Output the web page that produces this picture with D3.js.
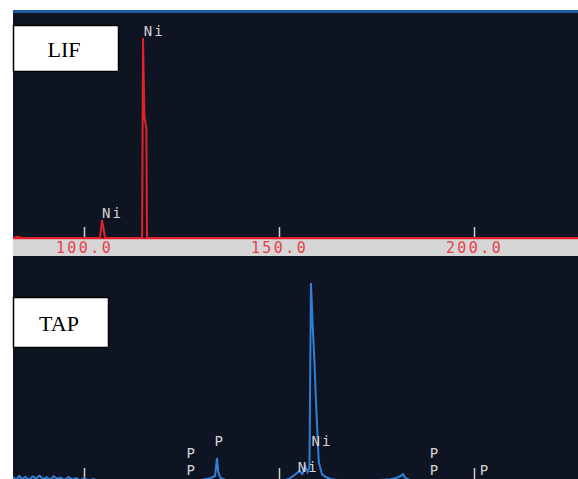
<!DOCTYPE html>
<html>
<head>
<meta charset="utf-8">
<script src="https://cdn.jsdelivr.net/npm/d3@7"></script>
<style>
  body { margin: 0; background: #fff; }
  svg { display: block; }
  .mono { font-family: "DejaVu Sans Mono", "Liberation Mono", monospace; }
</style>
</head>
<body>
<svg width="578" height="479"></svg>
<script>
// spectrometer position (mm) vs. counts
const lifPos    = [81.8, 83.0, 84.2, 86.0, 104.1, 104.5, 104.6, 104.9, 105.4, 114.9, 115.13, 115.5, 116.0, 116.15, 116.4, 226.7];
const lifCounts = [0,    0.6,  0,    0,    0,     7,     9,     6,     0,     0,     100,    60,    55,    0,      0,     0];

const tapPos    = [81.8, 82.6, 83.4, 84.2, 85.0, 85.9, 86.8, 87.7, 88.6, 89.5, 90.4, 91.3, 92.2, 93.1, 94.0, 95.0, 96.0, 97.0, 98.0, 99.0, 100.0, 101.2, 102.5, 104.0, 128.0, 130.5, 132.5, 133.6, 134.1, 134.4, 135.0, 136.2, 138.0, 150.0, 152.5, 154.0, 155.2, 156.0, 156.7, 157.3, 157.8, 158.2, 158.6, 159.1, 159.6, 160.2, 161.0, 162.0, 163.2, 165.0, 170.0, 175.0, 178.0, 180.0, 181.2, 181.8, 182.4, 183.6, 190.0, 226.7];
const tapCounts = [2.5,  1.2,  3.0,  1.5,  2.6,  1.0,  2.8,  1.8,  3.2,  1.4,  2.4,  1.1,  2.9,  1.6,  2.2,  1.0,  2.5,  1.3,  2.0,  0.9,  1.8,   0.8,   1.5,   0.2,   0.2,   1.2,   2.0,   3.0,   12,    5,     2,     1.2,   0.2,   0.3,   1.5,   3.5,   5.5,   4,     8,     5,     7,     100,   80,    60,    35,    10,    4,     2.5,   1.5,   1,     0.8,   1,     1.2,   2,     3,     4,     2,     1,     0.2,   0.2];

const axisTicks = [100, 150, 200];

// element labels: [symbol, position, text baseline]
const lifLabels = [["Ni", 107.3, 218], ["Ni", 118.0, 36]];
const tapLabels = [
  ["P", 134.8, 446], ["P", 127.6, 458], ["P", 127.6, 475],
  ["Ni", 161.0, 446], ["Ni", 157.5, 472],
  ["P", 190.0, 458], ["P", 190.0, 475], ["P", 202.8, 475]
];

const svg = d3.select("svg");
const left = 13, right = 578;

const x = d3.scaleLinear().domain([100, 200]).range([84, 474]);
const yLif = d3.scaleLinear().domain([0, 100]).range([238, 38]);
const yTap = d3.scaleLinear().domain([0, 100]).range([482, 283]);

// dark screen
svg.append("rect").attr("x", left).attr("y", 10).attr("width", right - left).attr("height", 469).attr("fill", "#0e1421");
svg.append("rect").attr("x", left).attr("y", 10).attr("width", right - left).attr("height", 3).attr("fill", "#1d5aa6");

// LIF axis band
svg.append("rect").attr("x", left).attr("y", 238).attr("width", right - left).attr("height", 18).attr("fill", "#d6d6d6");

const lifAxis = svg.append("g")
  .attr("class", "mono")
  .attr("transform", "translate(0,238)")
  .call(d3.axisBottom(x).tickValues(axisTicks).tickSizeInner(-11).tickSizeOuter(0).tickPadding(4).tickFormat(d3.format(".1f")));
lifAxis.select(".domain").remove();
lifAxis.selectAll(".tick line").attr("stroke", "#cfcfcf").attr("stroke-width", 1.5);
lifAxis.selectAll(".tick text").attr("fill", "#e8404c").attr("font-size", 15).attr("letter-spacing", 2.4);

const lifLine = d3.line().x((d, i) => x(lifPos[i])).y(d => yLif(d));
svg.append("path")
  .attr("d", lifLine(lifCounts))
  .attr("fill", "none").attr("stroke", "#e3212c").attr("stroke-width", 2);
svg.append("line").attr("x1", left).attr("x2", right).attr("y1", 238.5).attr("y2", 238.5)
  .attr("stroke", "#e3212c").attr("stroke-width", 1.5);

// TAP axis ticks along bottom edge
const tapAxis = svg.append("g")
  .attr("transform", "translate(0,480)")
  .call(d3.axisBottom(x).tickValues(axisTicks).tickSizeInner(-12).tickSizeOuter(0).tickFormat(""));
tapAxis.select(".domain").remove();
tapAxis.selectAll(".tick line").attr("stroke", "#cfcfcf").attr("stroke-width", 1.5);

const tapLine = d3.line().x((d, i) => x(tapPos[i])).y(d => yTap(d));
svg.append("path")
  .attr("d", tapLine(tapCounts))
  .attr("fill", "none").attr("stroke", "#2f80d8").attr("stroke-width", 2);

// peak labels
function peakLabels(rows) {
  svg.append("g").attr("class", "mono").selectAll("text")
    .data(rows)
    .join("text")
    .attr("x", d => x(d[1])).attr("y", d => d[2])
    .attr("text-anchor", "middle").attr("font-size", 14).attr("letter-spacing", 2)
    .attr("fill", "#d4d4d4").text(d => d[0]);
}
peakLabels(lifLabels);
peakLabels(tapLabels);

// crystal name boxes
function nameBox(x0, y0, w, h, label) {
  svg.append("rect").attr("x", x0).attr("y", y0).attr("width", w).attr("height", h)
    .attr("fill", "#fff").attr("stroke", "#000").attr("stroke-width", 1.5);
  svg.append("text").attr("x", x0 + w / 2 - 2).attr("y", y0 + h / 2 + 8)
    .attr("text-anchor", "middle").attr("font-family", "Liberation Serif, serif").attr("font-size", 22)
    .attr("fill", "#000").text(label);
}
nameBox(13.5, 25.5, 105, 46, "LIF");
nameBox(13.5, 297.5, 95, 50, "TAP");
</script>
</body>
</html>
